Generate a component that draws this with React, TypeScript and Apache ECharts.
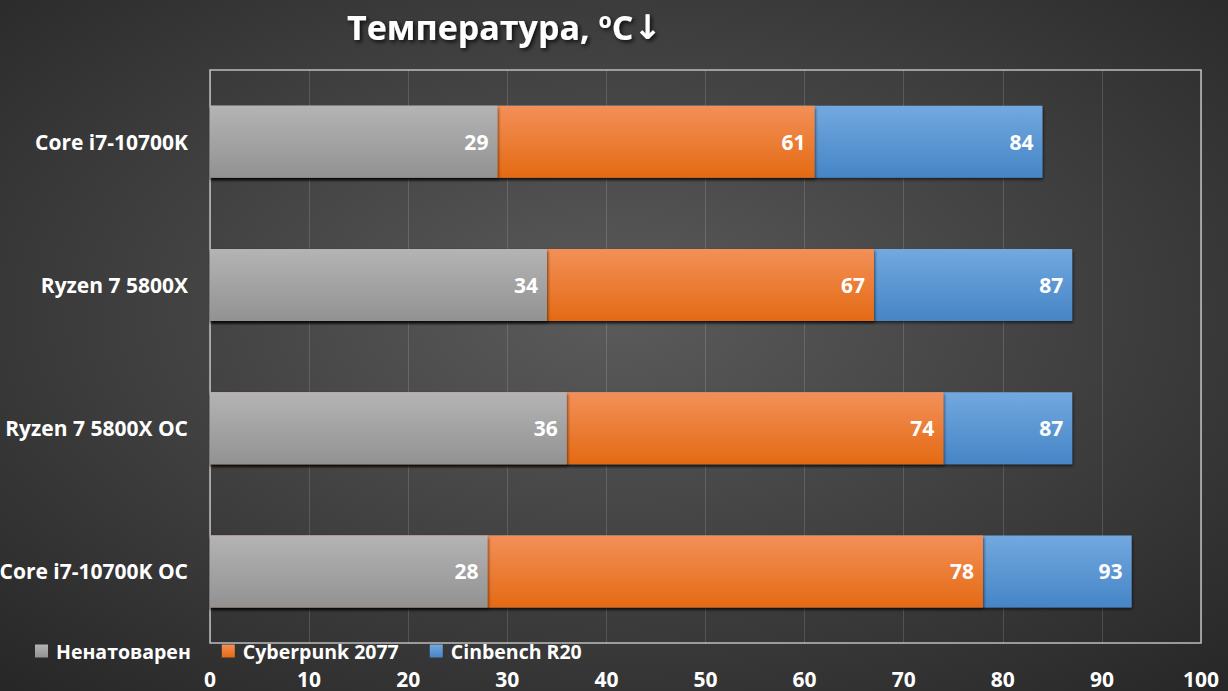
import React, { useEffect, useRef } from "react";
import * as echarts from "echarts";

const categories = ["Core i7-10700K", "Ryzen 7 5800X", "Ryzen 7 5800X OC", "Core i7-10700K OC"];
const idleValues = [29, 34, 36, 28];
const cyberpunkValues = [61, 67, 74, 78];
const cinebenchValues = [84, 87, 87, 93];
const seriesNames = ["Ненатоварен", "Cyberpunk 2077", "Cinbench R20"];
const titleMain = "Температура, ºC";
const titleArrow = "↓";

const FONT = "'Open Sans', 'Noto Sans', sans-serif";

const grad = (top: string, bottom: string) =>
  new echarts.graphic.LinearGradient(0, 0, 0, 1, [
    { offset: 0, color: top },
    { offset: 1, color: bottom },
  ]);

export default function App() {
  const ref = useRef<HTMLDivElement>(null);
  useEffect(() => {
    document.body.style.margin = "0";
    if (!ref.current) return;
    const chart = echarts.init(ref.current, null, { renderer: "svg" });
    const labelStyle = {
      show: true,
      position: "insideRight" as const,
      distance: 9,
      color: "#ffffff",
      fontFamily: FONT,
      fontWeight: "bold" as const,
      fontSize: 21,
    };
    const itemShadow = {
      shadowBlur: 3,
      shadowColor: "rgba(0,0,0,0.55)",
      shadowOffsetY: 2,
      shadowOffsetX: 1,
    };
    const titleShadow = {
      textShadowColor: "rgba(0,0,0,0.8)",
      textShadowBlur: 4,
      textShadowOffsetX: 2,
      textShadowOffsetY: 2,
    };
    chart.setOption({
      animation: false,
      backgroundColor: {
        type: "radial",
        x: 0.5,
        y: 0.45,
        r: 0.75,
        colorStops: [
          { offset: 0, color: "#5b5b5b" },
          { offset: 1, color: "#262626" },
        ],
      },
      title: {
        text: "{m|" + titleMain + "}{a|" + titleArrow + "}",
        left: 342,
        top: 5,
        textStyle: {
          rich: {
            m: {
              color: "#ffffff",
              fontFamily: FONT,
              fontWeight: "bold",
              fontSize: 34,
              ...titleShadow,
            },
            a: {
              color: "#ffffff",
              fontFamily: "'DejaVu Sans', sans-serif",
              fontWeight: "bold",
              fontSize: 34,
              ...titleShadow,
            },
          },
        },
      },
      legend: {
        data: seriesNames,
        left: 30,
        top: 636,
        icon: "rect",
        itemWidth: 13,
        itemHeight: 13,
        itemGap: 31,
        textStyle: {
          color: "#ffffff",
          fontFamily: FONT,
          fontWeight: "bold",
          fontSize: 19.5,
          padding: [0, 0, 0, 3],
        },
      },
      grid: {
        left: 210,
        right: 27,
        top: 70,
        bottom: 48,
        outerBoundsMode: "none",
        containLabel: false,
        show: true,
        borderColor: "#bdbdbd",
        borderWidth: 1.5,
        backgroundColor: "transparent",
      },
      xAxis: {
        type: "value",
        min: 0,
        max: 100,
        interval: 10,
        axisLine: { show: false },
        axisTick: { show: false },
        splitLine: { show: true, lineStyle: { color: "rgba(255,255,255,0.14)", width: 1 } },
        axisLabel: {
          color: "#ffffff",
          fontFamily: FONT,
          fontWeight: "bold",
          fontSize: 21,
          margin: 25,
        },
      },
      yAxis: {
        type: "category",
        data: categories,
        inverse: true,
        axisLine: { show: false },
        axisTick: { show: false },
        splitLine: { show: false },
        axisLabel: {
          color: "#ffffff",
          fontFamily: FONT,
          fontWeight: "bold",
          fontSize: 21,
          margin: 22,
        },
      },
      series: [
        {
          name: seriesNames[2],
          type: "bar",
          data: cinebenchValues,
          barWidth: 72,
          barGap: "-100%",
          itemStyle: { color: grad("#72a9df", "#4685c6"), ...itemShadow },
          label: labelStyle,
        },
        {
          name: seriesNames[1],
          type: "bar",
          data: cyberpunkValues,
          barWidth: 72,
          barGap: "-100%",
          itemStyle: { color: grad("#f39058", "#e46a14"), ...itemShadow },
          label: labelStyle,
        },
        {
          name: seriesNames[0],
          type: "bar",
          data: idleValues,
          barWidth: 72,
          barGap: "-100%",
          itemStyle: { color: grad("#b4b4b4", "#929292"), ...itemShadow },
          label: labelStyle,
        },
      ],
    });
    return () => chart.dispose();
  }, []);
  return <div ref={ref} style={{ width: 1228, height: 691 }} />;
}
